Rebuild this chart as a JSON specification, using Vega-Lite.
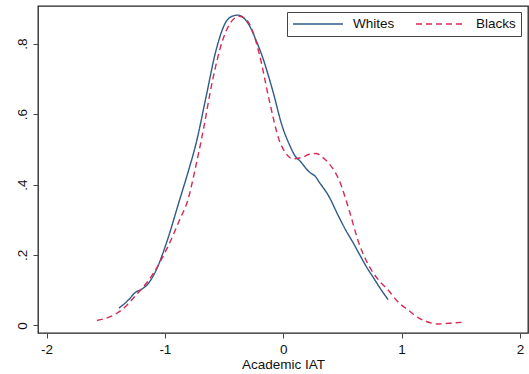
{
  "$schema": "https://vega.github.io/schema/vega-lite/v6.json",
  "width": 490,
  "height": 327,
  "autosize": {"type": "none"},
  "padding": {"left": 38, "top": 6, "right": 1, "bottom": 41},
  "background": "white",
  "config": {
    "font": "Liberation Sans",
    "view": {"stroke": "#222222", "strokeWidth": 1.3},
    "axis": {
      "grid": false,
      "domain": false,
      "tickColor": "#444444",
      "tickSize": 5,
      "tickWidth": 1,
      "labelFontSize": 13.5,
      "labelColor": "#111111",
      "titleFontSize": 13.5,
      "titleFontWeight": "normal",
      "titleColor": "#111111"
    },
    "legend": {
      "orient": "none",
      "legendX": 249,
      "legendY": 6,
      "direction": "horizontal",
      "symbolType": "stroke",
      "symbolSize": 2500,
      "symbolStrokeWidth": 1.4,
      "clipHeight": 14,
      "labelFontSize": 13.5,
      "labelColor": "#111111",
      "labelOffset": 9,
      "columnPadding": 20,
      "padding": 5,
      "strokeColor": "#444444",
      "fillColor": "white"
    }
  },
  "data": {
    "values": [
      {"g": "Whites", "x": -1.388, "y": 0.049},
      {"g": "Whites", "x": -1.30, "y": 0.075},
      {"g": "Whites", "x": -1.255, "y": 0.092},
      {"g": "Whites", "x": -1.19, "y": 0.104},
      {"g": "Whites", "x": -1.143, "y": 0.118},
      {"g": "Whites", "x": -1.072, "y": 0.158},
      {"g": "Whites", "x": -0.987, "y": 0.234},
      {"g": "Whites", "x": -0.875, "y": 0.357},
      {"g": "Whites", "x": -0.80, "y": 0.44},
      {"g": "Whites", "x": -0.737, "y": 0.516},
      {"g": "Whites", "x": -0.652, "y": 0.649},
      {"g": "Whites", "x": -0.568, "y": 0.781},
      {"g": "Whites", "x": -0.484, "y": 0.862},
      {"g": "Whites", "x": -0.43, "y": 0.878},
      {"g": "Whites", "x": -0.385, "y": 0.881},
      {"g": "Whites", "x": -0.34, "y": 0.875},
      {"g": "Whites", "x": -0.287, "y": 0.852},
      {"g": "Whites", "x": -0.23, "y": 0.81},
      {"g": "Whites", "x": -0.175, "y": 0.762},
      {"g": "Whites", "x": -0.09, "y": 0.668},
      {"g": "Whites", "x": -0.006, "y": 0.563},
      {"g": "Whites", "x": 0.05, "y": 0.515},
      {"g": "Whites", "x": 0.107, "y": 0.478},
      {"g": "Whites", "x": 0.135, "y": 0.469},
      {"g": "Whites", "x": 0.219, "y": 0.436},
      {"g": "Whites", "x": 0.276, "y": 0.421},
      {"g": "Whites", "x": 0.304, "y": 0.407},
      {"g": "Whites", "x": 0.388, "y": 0.365},
      {"g": "Whites", "x": 0.46, "y": 0.315},
      {"g": "Whites", "x": 0.529, "y": 0.27},
      {"g": "Whites", "x": 0.59, "y": 0.235},
      {"g": "Whites", "x": 0.647, "y": 0.2},
      {"g": "Whites", "x": 0.70, "y": 0.168},
      {"g": "Whites", "x": 0.759, "y": 0.137},
      {"g": "Whites", "x": 0.82, "y": 0.105},
      {"g": "Whites", "x": 0.886, "y": 0.073},
      {"g": "Blacks", "x": -1.574, "y": 0.014},
      {"g": "Blacks", "x": -1.50, "y": 0.02},
      {"g": "Blacks", "x": -1.439, "y": 0.028},
      {"g": "Blacks", "x": -1.354, "y": 0.047},
      {"g": "Blacks", "x": -1.241, "y": 0.087},
      {"g": "Blacks", "x": -1.114, "y": 0.139},
      {"g": "Blacks", "x": -0.987, "y": 0.215},
      {"g": "Blacks", "x": -0.875, "y": 0.30},
      {"g": "Blacks", "x": -0.805, "y": 0.357},
      {"g": "Blacks", "x": -0.74, "y": 0.45},
      {"g": "Blacks", "x": -0.681, "y": 0.545},
      {"g": "Blacks", "x": -0.597, "y": 0.696},
      {"g": "Blacks", "x": -0.512, "y": 0.81},
      {"g": "Blacks", "x": -0.44, "y": 0.862},
      {"g": "Blacks", "x": -0.371, "y": 0.878},
      {"g": "Blacks", "x": -0.33, "y": 0.873},
      {"g": "Blacks", "x": -0.287, "y": 0.857},
      {"g": "Blacks", "x": -0.203, "y": 0.772},
      {"g": "Blacks", "x": -0.118, "y": 0.639},
      {"g": "Blacks", "x": -0.034, "y": 0.526},
      {"g": "Blacks", "x": 0.02, "y": 0.49},
      {"g": "Blacks", "x": 0.079, "y": 0.473},
      {"g": "Blacks", "x": 0.163, "y": 0.478},
      {"g": "Blacks", "x": 0.22, "y": 0.486},
      {"g": "Blacks", "x": 0.276, "y": 0.488},
      {"g": "Blacks", "x": 0.33, "y": 0.478},
      {"g": "Blacks", "x": 0.388, "y": 0.459},
      {"g": "Blacks", "x": 0.473, "y": 0.412},
      {"g": "Blacks", "x": 0.557, "y": 0.327},
      {"g": "Blacks", "x": 0.641, "y": 0.232},
      {"g": "Blacks", "x": 0.70, "y": 0.185},
      {"g": "Blacks", "x": 0.754, "y": 0.152},
      {"g": "Blacks", "x": 0.816, "y": 0.125},
      {"g": "Blacks", "x": 0.895, "y": 0.097},
      {"g": "Blacks", "x": 0.96, "y": 0.07},
      {"g": "Blacks", "x": 1.069, "y": 0.04},
      {"g": "Blacks", "x": 1.14, "y": 0.022},
      {"g": "Blacks", "x": 1.21, "y": 0.011},
      {"g": "Blacks", "x": 1.309, "y": 0.004},
      {"g": "Blacks", "x": 1.422, "y": 0.007},
      {"g": "Blacks", "x": 1.534, "y": 0.009}
    ]
  },
  "mark": {"type": "line", "strokeWidth": 1.4, "interpolate": "monotone"},
  "encoding": {
    "x": {
      "field": "x",
      "type": "quantitative",
      "scale": {"domain": [-2.072, 2.068], "nice": false, "zero": false},
      "axis": {
        "values": [-2, -1, 0, 1, 2],
        "title": "Academic IAT",
        "labelPadding": 4,
        "titlePadding": 2,
        "labelExpr": "datum.value + ''"
      }
    },
    "y": {
      "field": "y",
      "type": "quantitative",
      "scale": {"domain": [-0.0216, 0.907], "nice": false, "zero": false},
      "axis": {
        "values": [0, 0.2, 0.4, 0.6, 0.8],
        "title": null,
        "labelAngle": -90,
        "labelAlign": "center",
        "labelBaseline": "bottom",
        "labelPadding": 4,
        "labelExpr": "datum.value == 0 ? '0' : replace(format(datum.value, '.1f'), '0.', '.')"
      }
    },
    "color": {
      "field": "g",
      "type": "nominal",
      "scale": {"domain": ["Whites", "Blacks"], "range": ["#2e5b88", "#d62a55"]},
      "legend": {"title": null}
    },
    "strokeDash": {
      "field": "g",
      "type": "nominal",
      "scale": {"domain": ["Whites", "Blacks"], "range": [[1, 0], [6, 4]]},
      "legend": {"title": null}
    }
  }
}
